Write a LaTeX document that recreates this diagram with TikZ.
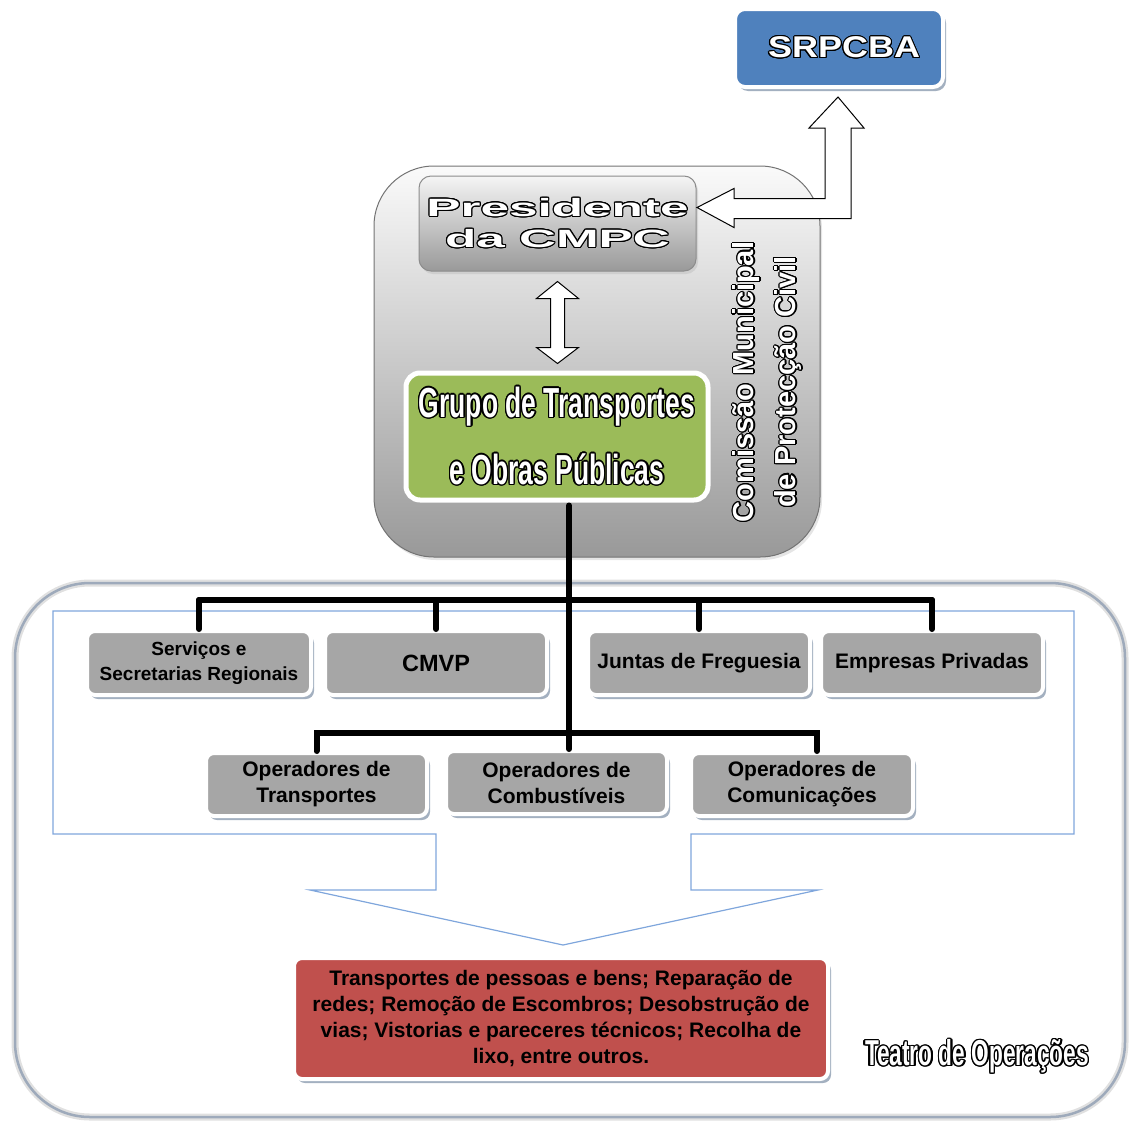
\documentclass[tikz,border=0pt]{standalone}
\usepackage{fontspec}
\setmainfont{Liberation Sans}
\newfontfamily\narrowfont[FakeStretch=0.63]{Liberation Sans}
\newfontfamily\widefont[FakeStretch=2.05]{Liberation Sans}
\newfontfamily\semiwidefont[FakeStretch=1.2]{Liberation Sans}
\usepackage[copies]{contour}
\contourlength{1.1pt}
\usetikzlibrary{positioning,calc,shadows,shapes,arrows}
\definecolor{boxgrey}{HTML}{A6A6A6}
\definecolor{srblue}{HTML}{4F81BD}
\definecolor{grgreen}{HTML}{9BBB59}
\definecolor{opred}{HTML}{C0504D}
\definecolor{outlineblue}{HTML}{7FA6DC}
\definecolor{shadowc}{HTML}{8C9CB0}
\definecolor{frameedge}{HTML}{9EAABB}
\newcommand{\outl}[1]{\textcolor{white}{\contour{black}{#1}}}

\begin{document}
\begin{tikzpicture}[x=1pt,y=-1pt,>=stealth]
\tikzstyle{box}=[rectangle,rounded corners=8pt,draw=white,line width=4pt,fill=boxgrey,drop shadow={shadow xshift=3pt,shadow yshift=-4pt,fill=shadowc,opacity=0.8},text=black,align=center,inner sep=0pt,font=\fontsize{21}{26}\selectfont\bfseries,minimum height=64pt,minimum width=222pt]
\tikzstyle{link}=[line width=6pt,line cap=round,black]
\tikzstyle{blockarrow}=[draw=black,fill=white,line width=1pt,line join=miter]
\useasboundingbox (0,0) rectangle (1129,1122);
\draw[line width=7pt,color=black!12,rounded corners=75pt] (15,583) rectangle (1125,1117);
\draw[line width=2.5pt,color=frameedge,rounded corners=75pt] (15,583) rectangle (1125,1117);
\draw[outlineblue,line width=1.2pt] (53,611) -- (1074,611) -- (1074,834) -- (691,834) -- (691,890) -- (818,890) -- (563,945) -- (310,890) -- (436,890) -- (436,834) -- (53,834) -- cycle;
\node[rectangle,rounded corners=60pt,draw=black!55,line width=1pt,top color=black!2,bottom color=black!40,minimum width=446pt,minimum height=391pt,drop shadow={shadow xshift=2pt,shadow yshift=-3pt,fill=black!20}] (cmpc) at (597,361.5) {};
\node[rectangle,rounded corners=12pt,draw=black!45,line width=1pt,top color=black!4,bottom color=black!40,minimum width=277pt,minimum height=95pt,inner sep=0pt,align=center,font=\widefont\bfseries\fontsize{25}{31}\selectfont,drop shadow={shadow xshift=2pt,shadow yshift=-3pt,fill=black!25}] (pres) at (557.5,223.5) {\outl{Presidente}\\\outl{da CMPC}};
\node[rectangle,rounded corners=10pt,draw=white,line width=4pt,fill=srblue,minimum width=208pt,minimum height=78pt,drop shadow={shadow xshift=3pt,shadow yshift=-4pt,fill=shadowc,opacity=0.8},font=\semiwidefont\bfseries\fontsize{30}{34}\selectfont] (srpcba) at (839,48) {\hspace{10pt}\outl{SRPCBA}};
\node[rectangle,rounded corners=14pt,draw=white,line width=5pt,fill=grgreen,minimum width=302pt,minimum height=127pt,inner sep=0pt,align=center,drop shadow={shadow xshift=3pt,shadow yshift=-4pt,fill=black!35},font=\narrowfont\bfseries\fontsize{42}{67}\selectfont] (grupo) at (557,436.5) {\contourlength{1.4pt}\outl{Grupo de Transportes}\\\contourlength{1.4pt}\outl{e Obras Públicas}};
\node[rotate=90,align=center,inner sep=0pt,font=\bfseries\fontsize{29}{42}\selectfont] (cmpclabel) at (768,382) {\outl{Comissão Municipal}\\\outl{de Protecção Civil}};
\node[box,minimum width=224pt,font=\fontsize{19}{25}\selectfont\bfseries] (serv) at (199,663) {Serviços e\\Secretarias Regionais};
\node[box,font=\fontsize{23.5}{26}\selectfont\bfseries] (cmvp) at (436,663) {CMVP};
\node[box] (junt) at (699,663) {Juntas de Freguesia};
\node[box] (empr) at (932,663) {Empresas Privadas};
\node[box,minimum width=221pt,minimum height=63pt] (optr) at (316.5,784.5) {Operadores de\\Transportes};
\node[box,minimum width=221pt,minimum height=63pt] (opcb) at (556.5,782.5) {Operadores de\\Combustíveis};
\node[box,minimum height=63pt] (opcm) at (802,784.5) {Operadores de\\Comunicações};
\node[box,fill=opred,minimum width=534pt,minimum height=121pt] (tasks) at (561,1018.5) {Transportes de pessoas e bens; Reparação de\\redes; Remoção de Escombros; Desobstrução de\\vias; Vistorias e pareceres técnicos; Recolha de\\lixo, entre outros.};
\node[font=\narrowfont\bfseries\fontsize{36}{40}\selectfont] (teatro) at (977,1057) {\contourlength{1.3pt}\outl{Teatro de Operações}};
\coordinate (uptip) at ($(srpcba.south)+(-1,8)$);
\coordinate (lefttip) at ($(pres.east)+(0.5,-16)$);
\draw[blockarrow] (uptip) -- ++(26,31) -- ++(-13,0) |- ($(lefttip)+(37,11)$) -- ++(0,9) -- (lefttip) -- ++(37,-19) -- ++(0,10) -| ($(uptip)+(-13,31)$) -- ++(-16,0) -- cycle;
\draw[blockarrow] ($(pres.south)+(0,10)$) -- ++(21,17) -- ++(-14,0) -- ++(0,49) -- ++(14,0) -- ++(-21,16) -- ++(-21,-16) -- ++(14,0) -- ++(0,-49) -- ++(-14,0) -- cycle;
\coordinate (trunk) at ($(grupo.south)+(12,3)$);
\coordinate (bar1) at (569,600);
\coordinate (bar2) at (569,733);
\draw[link] (trunk) -- (trunk |- opcb.north);
\draw[link] (serv.north |- bar1) -- (empr.north |- bar1);
\foreach \n in {serv,cmvp,junt,empr}
  \draw[link] (\n.north |- bar1) -- (\n.north);
\draw[link] (optr.north) -- (optr.north |- bar2) -- ($(opcm.north |- bar2)+(15,0)$) -- ($(opcm.north)+(15,0)$);
\end{tikzpicture}
\end{document}
